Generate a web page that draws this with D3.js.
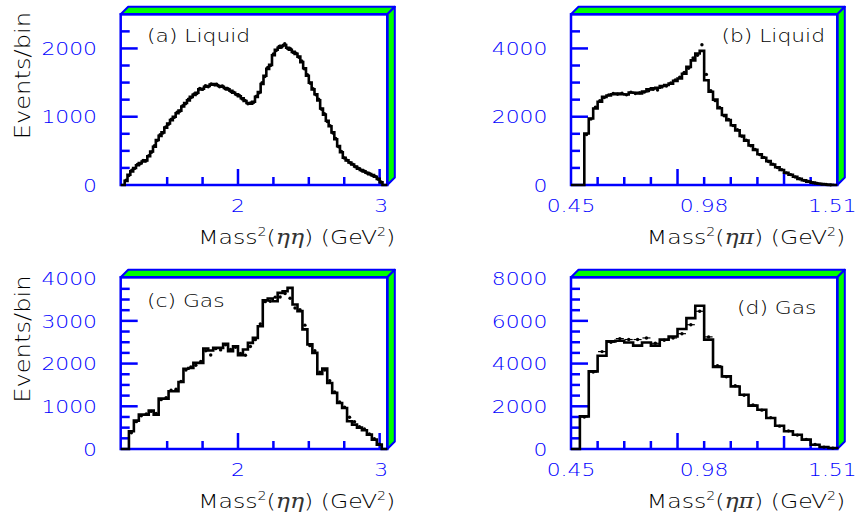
<!DOCTYPE html>
<html><head><meta charset="utf-8">
<script src="https://cdn.jsdelivr.net/npm/d3@7"></script>
<style>body{margin:0;background:#fff} svg{display:block}</style>
</head><body>
<svg id="chart" width="859" height="521"></svg>
<script>
// ---------------- data ----------------
// (a) Liquid, Mass^2(eta eta): bins of 0.02 GeV^2 starting at 1.20
const liquidEtaEtaStart = 1.20, liquidEtaEtaWidth = 0.02;
const liquidEtaEtaFit = [60,150,200,250,290,320,345,360,420,490,
 560,660,720,770,840,900,950,1000,1050,1090,
 1150,1200,1240,1290,1320,1350,1400,1410,1440,1450,
 1470,1480,1460,1450,1440,1420,1400,1380,1350,1330,
 1300,1270,1230,1200,1190,1220,1290,1360,1480,1600,
 1700,1760,1900,1980,2010,2040,2050,2010,1980,1950,
 1920,1880,1800,1710,1600,1500,1400,1330,1240,1120,
 1030,940,860,770,670,570,480,400,360,330,
 300,270,240,220,200,180,160,145,120,90,
 40];
const liquidEtaEtaData = [70,140,215,240,300,310,360,350,430,480,
 575,650,735,760,850,890,965,990,1065,1080,
 1160,1190,1255,1280,1335,1340,1415,1400,1455,1440,
 1480,1470,1475,1440,1450,1410,1410,1370,1360,1320,
 1310,1260,1240,1190,1200,1210,1300,1350,1500,1590,
 1720,1750,1920,1970,2030,2020,2070,2000,1995,1940,
 1930,1870,1815,1700,1615,1490,1410,1320,1255,1110,
 1045,930,870,760,680,560,490,395,365,325,
 305,265,245,215,205,175,165,140,125,85,
 45];

// (b) Liquid, Mass^2(eta pi): 60 bins over 0.45..1.51
const liquidEtaPiStart = 0.45, liquidEtaPiWidth = 1.06 / 60;
const liquidEtaPiFit = [0,0,0,1510,1950,2240,2440,2580,2620,2660,
 2680,2660,2650,2710,2700,2680,2740,2800,2830,2850,
 2900,2930,2970,3050,3120,3260,3460,3650,3850,3930,
 3070,2730,2500,2250,2050,1900,1750,1600,1440,1300,
 1160,1030,900,800,700,600,520,440,360,300,
 240,180,140,100,70,45,28,15,5,0];
const liquidEtaPiData = [0,0,0,1480,1930,2280,2470,2560,2640,2680,
 2660,2690,2640,2720,2680,2700,2720,2760,2800,2780,
 2870,2900,2990,3080,3160,3300,3420,3720,3800,4110,
 3240,2760,2470,2270,2030,1920,1740,1620,1430,1310,
 1150,1040,890,810,690,610,510,450,355,305,
 235,185,135,105,65,45,25,15,5,0];

// (c) Gas, Mass^2(eta eta): bins of 0.035 starting at 1.23
const gasEtaEtaStart = 1.23, gasEtaEtaWidth = 0.035;
const gasEtaEtaFit = [414,664,805,805,898,805,1180,1180,1352,1352,
 1570,1880,1898,2016,2016,2352,2305,2367,2367,2461,
 2289,2406,2195,2328,2484,2602,2875,3480,3523,3461,
 3656,3695,3773,3383,3227,2800,2450,2250,1760,1883,
 1547,1313,1078,961,648,570,500,438,336,219,
 102];
const gasEtaEtaData = [380,640,780,820,880,830,1156,1200,1375,1400,
 1580,1850,1920,1960,2050,2300,2200,2350,2320,2440,
 2330,2380,2240,2195,2400,2560,2930,3450,3460,3555,
 3560,3640,3530,3300,3260,2900,2420,2300,1800,1850,
 1600,1336,1100,980,742,640,520,470,350,240,
 110];

// (d) Gas, Mass^2(eta pi): 30 bins over 0.45..1.51
const gasEtaPiStart = 0.45, gasEtaPiWidth = 1.06 / 30;
const gasEtaPiFit = [0,1530,3635,4370,5040,5070,4990,4840,4990,4840,
 5120,5270,5620,6130,6710,5120,3840,3400,2930,2540,
 2030,1840,1450,1090,830,670,440,200,95,45];
const gasEtaPiData = [0,1500,3600,4560,5000,5170,5125,5125,5200,4950,
 5090,5200,5400,5820,6450,5250,3900,3380,2960,2520,
 2060,1820,1470,1070,850,650,450,210,90,40];

// axes
const etaEtaDomain = [1.172, 3.054];
const etaPiDomain = [0.45, 1.51];
const etaEtaTicks = [1.5, 1.75, 2, 2.25, 2.5, 2.75, 3];
const etaEtaMajorTicks = [2, 3];
const etaEtaTickLabels = ["2", "3"];
const etaEtaLabelValues = [2, 3];
const etaPiTicks = [0.556, 0.662, 0.768, 0.874, 0.98, 1.086, 1.192, 1.298, 1.404];
const etaPiMajorTicks = [0.874, 1.298];
const etaPiTickLabels = ["0.45", "0.98", "1.51"];
const etaPiLabelValues = [0.45, 0.98, 1.51];
const yLabelsA = [0, 1000, 2000];
const yLabelsB = [0, 2000, 4000];
const yLabelsC = [0, 1000, 2000, 3000, 4000];
const yLabelsD = [0, 2000, 4000, 6000, 8000];

// ---------------- drawing ----------------
const BLUE = "#0000ff", GREEN = "#00ff00", TEXT = "#000", TICKTEXT = "#0000ff";
const FONT = "'DejaVu Sans', sans-serif";
const WEIGHT = 200;
const STRETCH = 1.18, DEPTH = 7.5;
const svg = d3.select("#chart");

const panels = [
  {box:[120.7,387.3,14.3,185], xDomain:etaEtaDomain, yMax:2500, yStep:250, yLabels:yLabelsA,
   fit:liquidEtaEtaFit, data:liquidEtaEtaData, start:liquidEtaEtaStart, width:liquidEtaEtaWidth,
   kind:"ee", label:"(a) Liquid", labelPos:[147,41.7,"start"], yTitle:true, bars:false},
  {box:[571,837.3,14.3,185], xDomain:etaPiDomain, yMax:5000, yStep:500, yLabels:yLabelsB,
   fit:liquidEtaPiFit, data:liquidEtaPiData, start:liquidEtaPiStart, width:liquidEtaPiWidth,
   kind:"ep", label:"(b) Liquid", labelPos:[825,41.7,"end"], yTitle:false, bars:false},
  {box:[120.7,387.3,277.3,449], xDomain:etaEtaDomain, yMax:4020, yStep:250, yLabels:yLabelsC,
   fit:gasEtaEtaFit, data:gasEtaEtaData, start:gasEtaEtaStart, width:gasEtaEtaWidth,
   kind:"ee", label:"(c) Gas", labelPos:[147,307.3,"start"], yTitle:true, bars:false},
  {box:[571,837.3,277.3,449], xDomain:etaPiDomain, yMax:8040, yStep:500, yLabels:yLabelsD,
   fit:gasEtaPiFit, data:gasEtaPiData, start:gasEtaPiStart, width:gasEtaPiWidth,
   kind:"ep", label:"(d) Gas", labelPos:[816.5,313.7,"end"], yTitle:false, bars:true}
];

function stretchedText(g, x, y, anchor, size, color) {
  return g.append("text")
    .attr("transform", `translate(${x},${y}) scale(${STRETCH},1)`)
    .attr("text-anchor", anchor)
    .attr("font-family", FONT)
    .attr("font-weight", WEIGHT)
    .attr("font-size", size)
    .attr("fill", color);
}

panels.forEach(p => {
  const [x0, x1, top, bottom] = p.box;
  const g = svg.append("g");
  const x = d3.scaleLinear().domain(p.xDomain).range([x0, x1]);
  const y = d3.scaleLinear().domain([0, p.yMax]).range([bottom, top]);

  // 3D green bands
  g.append("path")
    .attr("d", `M${x0},${top}L${x1},${top}L${x1+DEPTH},${top-DEPTH}L${x0+DEPTH},${top-DEPTH}Z`)
    .attr("fill", GREEN).attr("stroke", BLUE).attr("stroke-width", 2).attr("stroke-linejoin", "round");
  g.append("path")
    .attr("d", `M${x1},${top}L${x1+DEPTH},${top-DEPTH}L${x1+DEPTH},${bottom-DEPTH}L${x1},${bottom}Z`)
    .attr("fill", GREEN).attr("stroke", BLUE).attr("stroke-width", 2).attr("stroke-linejoin", "round");
  // frame
  g.append("rect").attr("x", x0).attr("y", top).attr("width", x1 - x0).attr("height", bottom - top)
    .attr("fill", "none").attr("stroke", BLUE).attr("stroke-width", 2.5);

  // y ticks
  const yt = d3.range(p.yStep, p.yMax, p.yStep).filter(v => y(v) > top + 1);
  g.selectAll(null).data(yt).join("line")
    .attr("x1", x0).attr("x2", v => x0 + (p.yLabels.includes(v) ? 17 : 9))
    .attr("y1", v => y(v)).attr("y2", v => y(v))
    .attr("stroke", BLUE).attr("stroke-width", 2.5);
  p.yLabels.forEach(v => {
    stretchedText(g, x0 - 23.7, y(v) + 6.7, "end", 18.5, TICKTEXT).text(String(v));
  });

  // x ticks
  const xt = p.kind === "ee" ? etaEtaTicks : etaPiTicks;
  const xm = p.kind === "ee" ? etaEtaMajorTicks : etaPiMajorTicks;
  g.selectAll(null).data(xt).join("line")
    .attr("x1", v => x(v)).attr("x2", v => x(v))
    .attr("y1", bottom)
    .attr("y2", v => {
      if (!xm.includes(v)) return bottom - 8;
      if (p.kind === "ep" && v === xm[1]) return bottom - 13;
      return bottom - 16;
    })
    .attr("stroke", BLUE).attr("stroke-width", 2.5);
  const lv = p.kind === "ee" ? etaEtaLabelValues : etaPiLabelValues;
  const ls = p.kind === "ee" ? etaEtaTickLabels : etaPiTickLabels;
  lv.forEach((v, i) => {
    let dx = 0;
    if (p.kind === "ee" && v === 3) dx = 1.5;
    if (p.kind === "ep" && i === lv.length - 1) dx = -5;
    stretchedText(g, x(v) + dx, bottom + 27, "middle", 18.5, TICKTEXT).text(ls[i]);
  });

  // axis title
  const t = stretchedText(g, x1 + DEPTH + 0.5, bottom + 59, "end", 20, TEXT);
  t.append("tspan").text("Mass");
  t.append("tspan").attr("font-size", 12).attr("dy", -8).text("2");
  t.append("tspan").attr("dy", 8).text("(");
  t.append("tspan").attr("font-family", "'DejaVu Serif', serif").attr("font-weight", 400)
    .attr("font-style", "italic").attr("fill", "#333")
    .text(p.kind === "ee" ? "ηη" : "ηπ");
  t.append("tspan").text(") (GeV");
  t.append("tspan").attr("font-size", 12).attr("dy", -8).text("2");
  t.append("tspan").attr("dy", 8).text(")");

  if (p.yTitle) {
    g.append("text")
      .attr("transform", `translate(30,${(top + bottom) / 2 - 24}) rotate(-90) scale(${STRETCH},1)`)
      .attr("text-anchor", "middle").attr("font-family", FONT).attr("font-weight", WEIGHT)
      .attr("font-size", 20.5).attr("fill", TEXT).text("Events/bin");
  }

  // panel label
  stretchedText(g, p.labelPos[0], p.labelPos[1], p.labelPos[2], 18.5, TEXT).text(p.label);

  // histogram (fit)
  const n = p.fit.length;
  const pts = [[p.xDomain[0], 0], [p.start, 0]];
  p.fit.forEach((v, i) => {
    pts.push([p.start + i * p.width, v]);
    pts.push([p.start + (i + 1) * p.width, v]);
  });
  pts.push([p.start + n * p.width, 0]);
  pts.push([p.xDomain[1], 0]);
  g.append("path")
    .attr("d", d3.line().x(d => x(d[0])).y(d => y(d[1]))(pts))
    .attr("fill", "none").attr("stroke", "#000").attr("stroke-width", 2.6)
    .attr("stroke-linejoin", "miter");

  // data points
  const dp = p.data.map((v, i) => ({c: p.start + (i + 0.5) * p.width, v})).filter(d => d.v > 0);
  if (p.bars) {
    g.selectAll(null).data(dp).join("line")
      .attr("x1", d => x(d.c) - 4).attr("x2", d => x(d.c) + 4)
      .attr("y1", d => y(d.v)).attr("y2", d => y(d.v))
      .attr("stroke", "#000").attr("stroke-width", 1.2);
  }
  g.selectAll(null).data(dp).join("circle")
    .attr("cx", d => x(d.c)).attr("cy", d => y(d.v)).attr("r", 1.7).attr("fill", "#000");
});
</script>
</body></html>
